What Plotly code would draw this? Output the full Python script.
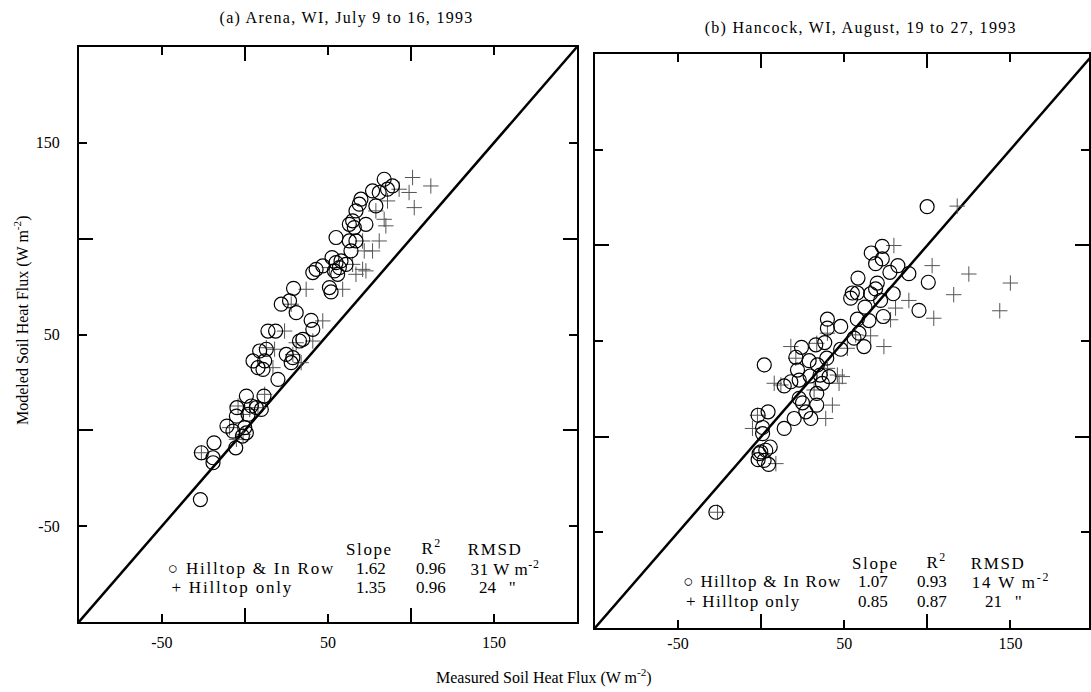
import json
import plotly.graph_objects as go

W, H = 1091, 692

# ---------------- data ----------------
# Panel (a) Arena, WI
a_row_x = [-26.8, -26.2, -18.6, -19.2, -19.2, -5.5, -1.5, -0.1, -10.8, -7.2, 0.9, -4.8, 0.9, -5.1, 1.9,
           6.9, 11.5, 9.9, 3.9, 19.9, 4.9, 7.9, 8.9, 12.9, 11.9, 10.9, 13.9, 18.5, 24.9, 27.9, 28.9, 32.9,
           34.9, 40.9, 39.9, 21.9, 26.9, 30.9, 29.3, 40.9, 42.9, 46.9, 50.9, 51.9, 52.5, 54.9, 56.9, 57.9,
           53.9, 55.9, 60.9, 54.9, 62.9, 63.9, 62.9, 64.9, 65.9, 66.9, 68.9, 69.9, 72.9, 78.9, 76.9, 80.9,
           83.9, 85.9, 88.9, 66.9]
a_row_y = [-36.1, -11.7, -6.5, -14.3, -16.9, -9.1, -3.0, 1.4, 2.2, -0.4, -1.3, 11.8, 17.9, 7.4, 8.3,
           11.8, 17.9, 10.9, 12.7, 26.6, 36.2, 32.7, 41.4, 42.3, 36.2, 31.8, 51.8, 51.8, 39.6, 35.3, 37.9, 46.6,
           47.5, 52.7, 57.4, 65.8, 67.5, 61.4, 74.1, 82.3, 84.0, 85.8, 74.5, 72.2, 90.1, 87.5, 84.9, 88.4,
           83.2, 81.4, 86.6, 100.6, 98.8, 93.6, 107.5, 109.3, 105.8, 114.5, 118.0, 120.6, 107.5, 117.1, 124.9, 124.1,
           131.0, 125.8, 127.5, 98.8]
a_top_x = [-26.2, -9.2, -4.1, -1.1, 2.9, 7.9, 11.9, 16.9, 12.9, 17.9, 23.9, 28.9, 33.9, 30.9, 40.9, 46.9,
           27.9, 36.9, 58.9, 50.9, 64.9, 66.9, 70.9, 72.9, 70.9, 80.9, 71.9, 76.9, 78.9, 83.9, 84.9, 85.9,
           92.9, 98.9, 102.0, 101.0, 112.0, -5.1, -1.1]
a_top_y = [-11.7, 1.4, 12.7, 8.3, 10.9, 11.8, 18.8, 32.7, 43.1, 42.3, 51.8, 39.6, 35.3, 45.7, 46.6, 57.1,
           65.8, 73.6, 73.6, 84.9, 86.6, 81.4, 84.0, 83.2, 98.8, 98.8, 93.6, 93.6, 114.5, 110.1, 106.7, 119.7,
           125.8, 124.1, 116.2, 131.9, 127.5, -4.7, -2.1]

# Panel (b) Hancock, WI
b_row_x = [-27.2, 99.9, 72.9, 66.3, 72.9, 68.9, 82.3, 77.5, 88.9, 100.6, 58.3, 69.9, 68.9, 79.5, 65.9,
           54.9, 57.9, 53.9, 71.9, 62.5, 95.0, 73.5, 64.9, 57.9, 39.9, 39.9, 47.9, 58.9, 55.9, 61.9, 47.9,
           38.3, 32.9, 24.3, 20.9, 28.9, 39.5, 33.9, 1.9, 21.9, 22.9, 29.5, 35.5, 36.9, 40.9, 13.9, 17.9,
           33.5, 33.5, 22.9, 24.9, 26.9, 29.9, 19.9, 13.9, 0.9, -1.8, 4.2, 0.9, -0.2, 2.8, 5.5, -1.8, 1.8,
           4.5, -1.2]
b_row_y = [-39.5, 120.2, 99.5, 96.0, 92.9, 90.4, 89.4, 85.9, 85.2, 80.7, 82.9, 80.3, 77.2, 74.7, 74.7,
           75.1, 75.1, 72.4, 71.2, 67.7, 66.0, 62.8, 60.7, 61.4, 61.4, 56.7, 57.6, 54.1, 51.5, 47.1, 45.7,
           49.2, 48.0, 46.7, 41.5, 39.7, 41.0, 37.5, 37.5, 34.8, 29.6, 31.7, 32.2, 27.9, 31.4, 26.5, 28.7,
           22.6, 16.5, 20.0, 17.7, 13.0, 9.5, 9.5, 4.3, 4.8, 11.2, 13.0, 1.6, -8.0, -7.1, -5.4, -12.0, -12.4,
           -14.5, -8.9]
b_top_x = [-26.2, 8.9, -2.2, -5.2, 7.9, 11.9, 17.9, 20.9, 31.9, 42.9, 38.9, 45.9, 48.9, 46.9, 39.9, 51.9,
           65.9, 73.9, 77.9, 80.9, 88.9, 79.9, 102.9, 125.0, 115.9, 143.6, 150.0, 118.0, 103.9, 39.9, 56.9, 33.5]
b_top_y = [-39.5, -14.1, 11.2, 4.3, 27.9, 27.0, 47.1, 41.0, 24.4, 16.5, 9.5, 32.2, 31.4, 27.9, 35.7, 46.2,
           52.7, 47.1, 61.1, 67.2, 71.2, 99.9, 89.4, 85.0, 74.2, 65.8, 80.3, 120.5, 61.9, 54.1, 53.2, 48.8]

one_to_one = [-100, 200]
tick_vals = [-50, 50, 150]
tick_text = ["-50", "50", "150"]
minor_vals = [0, 100]

FONT = "Liberation Serif"

# ---------------- figure ----------------
fig = go.Figure()

circle_style = dict(symbol="circle-open", size=14, color="black", line=dict(width=1.2, color="black"))
plus_style = dict(symbol="cross-thin-open", size=11, color="#555", line=dict(width=1.0, color="#555"))

for xa, ya, rx, ry, tx, ty in [("x", "y", a_row_x, a_row_y, a_top_x, a_top_y),
                                ("x2", "y2", b_row_x, b_row_y, b_top_x, b_top_y)]:
    fig.add_trace(go.Scatter(x=one_to_one, y=one_to_one, mode="lines", xaxis=xa, yaxis=ya,
                             line=dict(color="black", width=2.5), showlegend=False, hoverinfo="skip"))
    fig.add_trace(go.Scatter(x=tx, y=ty, mode="markers", xaxis=xa, yaxis=ya,
                             marker=plus_style, showlegend=False, cliponaxis=True))
    fig.add_trace(go.Scatter(x=rx, y=ry, mode="markers", xaxis=xa, yaxis=ya,
                             marker=circle_style, showlegend=False, cliponaxis=True))

axis_common = dict(
    showline=True, linecolor="black", linewidth=2, mirror="allticks",
    ticks="inside", ticklen=8, tickwidth=1.5, tickcolor="black",
    tickmode="array", tickvals=tick_vals, ticktext=tick_text,
    showgrid=False, zeroline=False,
    minor=dict(tickmode="array", tickvals=minor_vals, ticks="inside", ticklen=14,
               tickwidth=1.5, tickcolor="black", showgrid=False),
    tickfont=dict(family=FONT, size=16, color="black"),
)

fig.update_layout(
    width=W, height=H,
    margin=dict(l=0, r=0, t=0, b=0),
    paper_bgcolor="white", plot_bgcolor="white",
    font=dict(family=FONT, color="black"),
    xaxis=dict(axis_common, domain=[79 / W, 578 / W], range=[-100, 200], anchor="y",
               ticklabelstandoff=5),
    yaxis=dict(axis_common, domain=[1 - 622 / H, 1 - 47 / H], range=[-100, 200], anchor="x",
               ticklabelstandoff=14),
    xaxis2=dict(axis_common, domain=[596 / W, 1.0], range=[-100, 197.3], anchor="y2",
                ticklabelstandoff=0),
    yaxis2=dict(axis_common, domain=[1 - 628 / H, 1 - 54 / H], range=[-100, 200], anchor="x2",
                showticklabels=False),
)

spacings = []


def ann(text, x, y, size=16, xanchor="center", angle=0, spacing=0):
    fig.add_annotation(text=text, x=x / W, y=1 - y / H, xref="paper", yref="paper",
                       showarrow=False, xanchor=xanchor, yanchor="middle", textangle=angle,
                       font=dict(family=FONT, size=size, color="black"))
    spacings.append(spacing)


# titles
ann("(a) Arena, WI, July 9 to 16, 1993", 347, 18, size=16, spacing=1.3)
ann("(b) Hancock, WI, August, 19 to 27, 1993", 862, 28, size=16, spacing=1.3)
ann("Measured Soil Heat Flux (W m<sup>-2</sup>)", 545, 676, size=16)
ann("Modeled Soil Heat Flux (W m<sup>-2</sup>)", 21, 320, size=16, angle=-90)

HDR = 1.6
# stats legend panel (a)
ann("Slope", 370, 549, size=17, spacing=HDR)
ann("R<sup>2</sup>", 432, 547, size=17, spacing=HDR)
ann("RMSD", 496, 549, size=17, spacing=HDR)
ann("○ Hilltop &amp; In Row", 182, 568, xanchor="left", size=17, spacing=1.8)
ann("1.62", 372, 568, size=17)
ann("0.96", 432, 568, size=17)
ann("31 W m<sup>-2</sup>", 472, 568, xanchor="left", size=17, spacing=0.6)
ann("+ Hilltop only", 182, 587, xanchor="left", size=17, spacing=1.8)
ann("1.35", 372, 587, size=17)
ann("0.96", 432, 587, size=17)
ann("24   \"", 478, 587, xanchor="left", size=17)

# stats legend panel (b)
ann("Slope", 877, 563, size=17, spacing=HDR)
ann("R<sup>2</sup>", 938, 561, size=17, spacing=HDR)
ann("RMSD", 1000, 563, size=17, spacing=HDR)
ann("○ Hilltop &amp; In Row", 694, 581, xanchor="left", size=17, spacing=1.3)
ann("1.07", 875, 581, size=17)
ann("0.93", 934, 581, size=17)
ann("14 W m<sup>-2</sup>", 979, 581, xanchor="left", size=17, spacing=1.8)
ann("+ Hilltop only", 694, 601, xanchor="left", size=17, spacing=1.3)
ann("0.85", 875, 601, size=17)
ann("0.87", 934, 601, size=17)
ann("21   \"", 985, 601, xanchor="left", size=17)

post = """
document.body.style.margin='0';
document.body.style.padding='0';
document.body.style.overflow='hidden';
var sp = %s;
var ts = document.querySelectorAll('g.annotation text.annotation-text');
ts.forEach(function(t, i){
  if (sp[i]) { t.setAttribute('letter-spacing', sp[i] + 'px'); }
});
""" % json.dumps(spacings)

fig.write_html("out.html", post_script=post, config={"displayModeBar": False})
